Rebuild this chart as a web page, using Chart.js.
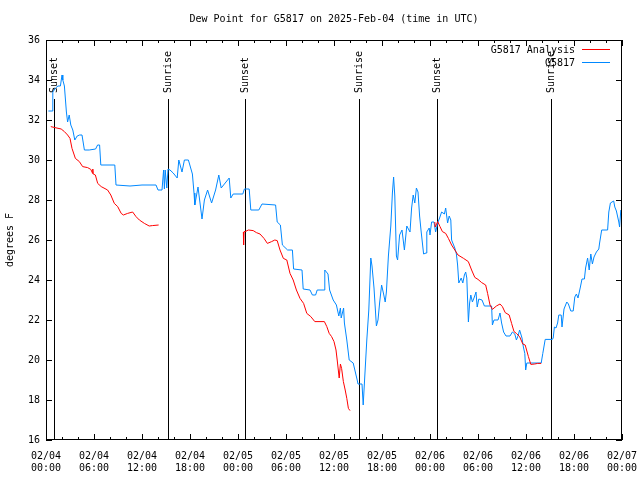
<!DOCTYPE html>
<html>
<head>
<meta charset="utf-8">
<script src="https://cdn.jsdelivr.net/npm/chart.js@4/dist/chart.umd.min.js"></script>
<style>
  body { margin: 0; background: #fff; }
  canvas { display: block; }
</style>
</head>
<body>
<canvas id="dewChart" width="640" height="480"></canvas>
<script>
// hours since 02/04 00:00 UTC
var obsHours = [0.3, 0.75, 0.85, 1.2, 1.5, 1.8, 2.0, 2.1, 2.3, 2.55, 2.7, 2.9, 3.1, 3.35, 3.6, 3.9, 4.2, 4.5, 4.8, 5.4,
  6.2, 6.45, 6.7, 6.85, 8.6, 8.75, 10.5, 12.0, 13.75, 14.0, 14.5, 14.7, 14.8, 14.9, 15.1, 15.25, 15.5, 15.9, 16.4, 16.6,
  17.0, 17.3, 17.8, 18.3, 18.5, 18.6, 19.0, 19.5, 19.8, 20.2, 20.7, 21.2, 21.6, 21.9, 22.4, 22.9, 23.1, 23.4, 24.6, 24.8,
  25.4, 25.6, 26.6, 27.0, 28.7, 28.9, 29.3, 29.55, 30.2, 30.8, 30.95, 32.0, 32.15, 33.0, 33.3, 33.7, 33.9, 34.75, 34.85, 35.25,
  35.45, 35.9, 36.3, 36.6, 36.8, 36.9, 37.2, 37.3, 37.6, 37.9, 38.4, 38.9, 39.0, 39.5, 39.65, 39.85, 40.1, 40.35, 40.6, 40.75,
  41.0, 41.3, 41.5, 41.7, 41.95, 42.2, 42.4, 42.55, 42.8, 43.1, 43.3, 43.45, 43.6, 43.8, 43.95, 44.2, 44.5, 44.8, 45.1, 45.5,
  45.7, 45.9, 46.1, 46.3, 46.5, 46.7, 46.9, 47.2, 47.5, 47.6, 47.9, 48.0, 48.2, 48.5, 48.7, 48.96, 49.2, 49.45, 49.8, 49.96,
  50.2, 50.4, 50.6, 50.7, 51.1, 51.3, 51.45, 51.6, 51.9, 52.1, 52.3, 52.46, 52.6, 52.8, 52.95, 53.1, 53.3, 53.5, 53.75, 53.9,
  54.1, 54.5, 54.8, 55.7, 55.8, 56.0, 56.5, 56.75, 56.95, 57.2, 57.5, 58.0, 58.3, 58.6, 58.8, 59.0, 59.2, 59.5, 59.67, 59.85,
  59.96, 60.1, 61.9, 62.1, 62.4, 63.3, 63.4, 63.55, 63.75, 63.95, 64.1, 64.4, 64.5, 64.75, 65.1, 65.3, 65.6, 65.9, 66.1, 66.3,
  66.5, 66.8, 67.0, 67.3, 67.45, 67.7, 67.9, 68.1, 68.3, 68.5, 68.8, 69.1, 69.2, 69.46, 70.2, 70.35, 70.55, 70.96, 71.1, 71.3,
  71.6, 71.7, 71.85];
var obsDewpt = [32.45, 32.45, 33.4, 33.6, 33.7, 33.7, 34.25, 34.0, 33.7, 32.4, 31.9, 32.25, 31.75, 31.5, 31.0, 31.2, 31.25, 31.25, 30.5, 30.5,
  30.55, 30.75, 30.75, 29.75, 29.75, 28.75, 28.7, 28.75, 28.75, 28.5, 28.5, 29.5, 28.55, 29.5, 28.6, 29.55, 29.5, 29.35, 29.1, 30.0,
  29.4, 30.0, 30.0, 29.3, 28.35, 27.75, 28.65, 27.05, 28.0, 28.5, 27.85, 28.5, 29.25, 28.6, 28.85, 29.1, 28.1, 28.3, 28.3, 28.55,
  28.55, 27.5, 27.5, 27.8, 27.75, 26.9, 26.75, 25.75, 25.5, 25.5, 24.55, 24.5, 23.55, 23.5, 23.25, 23.25, 23.5, 23.5, 24.5, 24.3,
  23.5, 23.0, 22.75, 22.2, 22.6, 22.1, 22.6, 21.85, 21.0, 20.0, 19.85, 19.0, 18.8, 18.8, 17.75, 19.2, 21.0, 22.5, 25.1, 24.7,
  23.6, 21.7, 22.0, 22.85, 23.75, 23.3, 22.9, 23.4, 25.2, 26.7, 28.35, 29.15, 28.2, 25.2, 25.0, 26.25, 26.5, 25.5, 26.7, 26.4,
  27.6, 28.25, 27.85, 28.6, 28.4, 27.2, 26.4, 25.3, 25.35, 26.4, 26.6, 26.25, 26.9, 26.9, 26.4, 26.85, 27.1, 27.4, 27.3, 27.6,
  26.85, 27.2, 27.0, 26.0, 25.6, 25.3, 24.75, 23.85, 24.1, 23.85, 24.25, 24.4, 24.1, 21.9, 22.85, 23.25, 22.9, 23.1, 23.4, 22.65,
  23.05, 23.0, 22.7, 22.7, 21.75, 22.0, 22.0, 22.35, 21.85, 21.4, 21.2, 21.2, 21.4, 21.3, 21.0, 21.2, 21.5, 21.1, 20.65, 20.33,
  19.5, 19.85, 19.85, 20.33, 21.03, 21.03, 21.1, 21.65, 21.6, 21.85, 22.25, 22.25, 21.65, 22.55, 22.9, 22.8, 22.45, 22.45, 23.15, 23.3,
  23.1, 23.65, 24.05, 24.05, 24.6, 25.1, 24.5, 25.3, 24.8, 25.15, 25.4, 25.55, 25.85, 26.5, 26.5, 27.4, 27.85, 27.95, 27.65, 27.45,
  26.9, 26.65, 27.5];

// analysis series, null marks a gap
var anaHours = [0.6, 1.0, 1.9, 2.3, 2.7, 3.0, 3.25, 3.67, 4.17, 4.58, 5.2, 5.6, 5.83, 5.85, 5.9, 6.17, 6.46, 6.9, 7.7, 8.1,
  8.54, 8.96, 9.4, 9.67, 10.2, 10.83, 11.25, 11.67, 12.3, 12.9, 13.3, 14.08, 19.0,
  24.67, 24.7, 24.75, 24.9, 25.3, 25.9, 26.3, 26.75, 27.25, 27.67, 28.2, 28.6, 28.9, 29.25, 29.67, 30.1, 30.5, 30.9, 31.3, 31.75,
  32.2, 32.6, 33.1, 33.6, 34.8, 35.1, 35.4, 35.7, 36.0, 36.25, 36.4, 36.65, 36.8, 36.95, 37.17, 37.4, 37.6, 37.8, 38.0, 43.0,
  48.6, 48.65, 48.96, 49.25, 49.55, 49.96, 50.3, 50.7, 51.1, 51.5, 52.2, 52.79, 53.2, 53.6, 54.0, 54.46, 54.96, 55.2, 55.5, 55.8,
  56.3, 56.75, 57.05, 57.4, 57.9, 58.2, 58.5, 58.8, 59.2, 59.6, 59.9, 60.3, 60.6, 61.1, 61.45, 61.9];
var anaDewpt = [31.67, 31.63, 31.55, 31.42, 31.25, 31.08, 30.58, 30.08, 29.92, 29.67, 29.62, 29.53, 29.33, 29.55, 29.3, 29.25, 28.83, 28.67, 28.5, 28.25,
  27.83, 27.67, 27.33, 27.25, 27.33, 27.4, 27.17, 27.0, 26.83, 26.7, 26.72, 26.75, null,
  26.4, 25.75, 26.42, 26.42, 26.5, 26.47, 26.37, 26.3, 26.08, 25.83, 25.92, 26.0, 25.97, 25.5, 25.08, 25.0, 24.33, 24.0, 23.5, 23.08,
  22.83, 22.33, 22.17, 21.92, 21.92, 21.67, 21.33, 21.17, 20.92, 20.5, 20.0, 19.1, 19.8, 19.58, 18.92, 18.5, 18.08, 17.58, 17.47, null,
  26.9, 26.65, 26.92, 26.67, 26.42, 26.33, 26.08, 25.75, 25.5, 25.25, 25.08, 24.92, 24.5, 24.13, 24.03, 23.87, 23.75, 23.33, 22.75, 22.53,
  22.7, 22.8, 22.67, 22.37, 22.25, 21.83, 21.42, 21.33, 21.17, 20.8, 20.75, 20.17, 19.78, 19.8, 19.83, 19.83];

var sunHours = [1.04, 15.29, 24.9, 39.17, 48.92, 63.17];
var sunLabels = ["Sunset", "Sunrise", "Sunset", "Sunrise", "Sunset", "Sunrise"];
var dayLabels = ["02/04", "02/05", "02/06", "02/07"];
var timeLabels = ["00:00", "06:00", "12:00", "18:00"];

var FONT = '"DejaVu Sans Mono", "Liberation Mono", monospace';
var RED = "#ff0000";
var BLUE = "#0088ff";

function toPoints(xs, ys) {
  return xs.map(function (x, i) { return { x: x, y: ys[i] }; });
}

// gnuplot-like frame, inward ticks, sun lines, title and legend
var gnuplotBits = {
  id: "gnuplotBits",
  beforeDatasetsDraw: function (chart) {
    var ctx = chart.ctx, a = chart.chartArea, xs = chart.scales.x;
    ctx.save();
    ctx.strokeStyle = "#000";
    ctx.fillStyle = "#000";
    ctx.lineWidth = 1;
    ctx.font = "10px " + FONT;
    sunHours.forEach(function (h, i) {
      var px = Math.round(xs.getPixelForValue(h)) + 0.5;
      ctx.beginPath();
      ctx.moveTo(px, 99);
      ctx.lineTo(px, a.bottom);
      ctx.stroke();
      ctx.save();
      ctx.translate(px, 93);
      ctx.rotate(-Math.PI / 2);
      ctx.textAlign = "left";
      ctx.textBaseline = "middle";
      ctx.fillText(sunLabels[i], 0, 0);
      ctx.restore();
    });
    ctx.restore();
  },
  afterDraw: function (chart) {
    var ctx = chart.ctx, a = chart.chartArea, xs = chart.scales.x, ys = chart.scales.y;
    ctx.save();
    ctx.strokeStyle = "#000";
    ctx.lineWidth = 1;
    ctx.strokeRect(Math.round(a.left) + 0.5, Math.round(a.top) + 0.5,
      Math.round(a.right - a.left) - 1, Math.round(a.bottom - a.top) - 1);
    ctx.beginPath();
    for (var h = 0; h <= 72; h += 2) {
      var px = Math.round(xs.getPixelForValue(h)) + 0.5;
      var len = (h % 6 === 0) ? 6 : 3;
      ctx.moveTo(px, a.bottom); ctx.lineTo(px, a.bottom - len);
      ctx.moveTo(px, a.top); ctx.lineTo(px, a.top + len);
    }
    for (var v = 16; v <= 36; v += 2) {
      var py = Math.round(ys.getPixelForValue(v)) + 0.5;
      ctx.moveTo(a.left, py); ctx.lineTo(a.left + 6, py);
      ctx.moveTo(a.right, py); ctx.lineTo(a.right - 6, py);
    }
    ctx.stroke();

    ctx.fillStyle = "#000";
    ctx.font = "10px " + FONT;
    ctx.textAlign = "center";
    ctx.textBaseline = "middle";
    ctx.fillText("Dew Point for G5817 on 2025-Feb-04 (time in UTC)", (a.left + a.right) / 2, 19);

    ctx.save();
    ctx.translate(10, 240);
    ctx.rotate(-Math.PI / 2);
    ctx.fillText("degrees F", 0, 0);
    ctx.restore();

    var entries = [["G5817 Analysis", RED], ["G5817", BLUE]];
    ctx.textAlign = "right";
    entries.forEach(function (e, i) {
      var y = 50 + i * 13;
      ctx.fillStyle = "#000";
      ctx.fillText(e[0], 575, y);
      ctx.strokeStyle = e[1];
      ctx.beginPath();
      ctx.moveTo(582, y - 0.5);
      ctx.lineTo(610, y - 0.5);
      ctx.stroke();
    });
    ctx.restore();
  }
};

var chart = new Chart(document.getElementById("dewChart"), {
  type: "line",
  data: {
    datasets: [
      {
        label: "G5817 Analysis",
        data: toPoints(anaHours, anaDewpt),
        borderColor: RED,
        borderWidth: 1,
        pointRadius: 0,
        spanGaps: false,
        tension: 0
      },
      {
        label: "G5817",
        data: toPoints(obsHours, obsDewpt),
        borderColor: BLUE,
        borderWidth: 1,
        pointRadius: 0,
        tension: 0
      }
    ]
  },
  options: {
    responsive: false,
    animation: false,
    layout: { padding: { top: 40, right: 18, left: 0, bottom: 0 } },
    plugins: {
      legend: { display: false },
      title: { display: false },
      tooltip: { enabled: false }
    },
    scales: {
      x: {
        type: "linear",
        min: 0,
        max: 72,
        grid: { display: false, drawTicks: false },
        border: { display: false },
        afterFit: function (s) { s.height = 40; s.paddingLeft = 0; s.paddingRight = 0; },
        afterBuildTicks: function (s) {
          s.ticks = [];
          for (var h = 0; h <= 72; h += 6) s.ticks.push({ value: h });
        },
        ticks: {
          autoSkip: false,
          maxRotation: 0,
          padding: 10,
          color: "#000",
          font: { family: FONT, size: 10, lineHeight: 1.2 },
          callback: function (value) {
            var h = Math.round(value);
            return [dayLabels[Math.floor(h / 24)], timeLabels[(h % 24) / 6]];
          }
        }
      },
      y: {
        min: 16,
        max: 36,
        grid: { display: false, drawTicks: false },
        border: { display: false },
        afterFit: function (s) { s.width = 46; s.paddingTop = 0; s.paddingBottom = 0; },
        ticks: {
          stepSize: 2,
          padding: 6,
          color: "#000",
          font: { family: FONT, size: 10 }
        }
      }
    }
  },
  plugins: [gnuplotBits]
});
</script>
</body>
</html>
